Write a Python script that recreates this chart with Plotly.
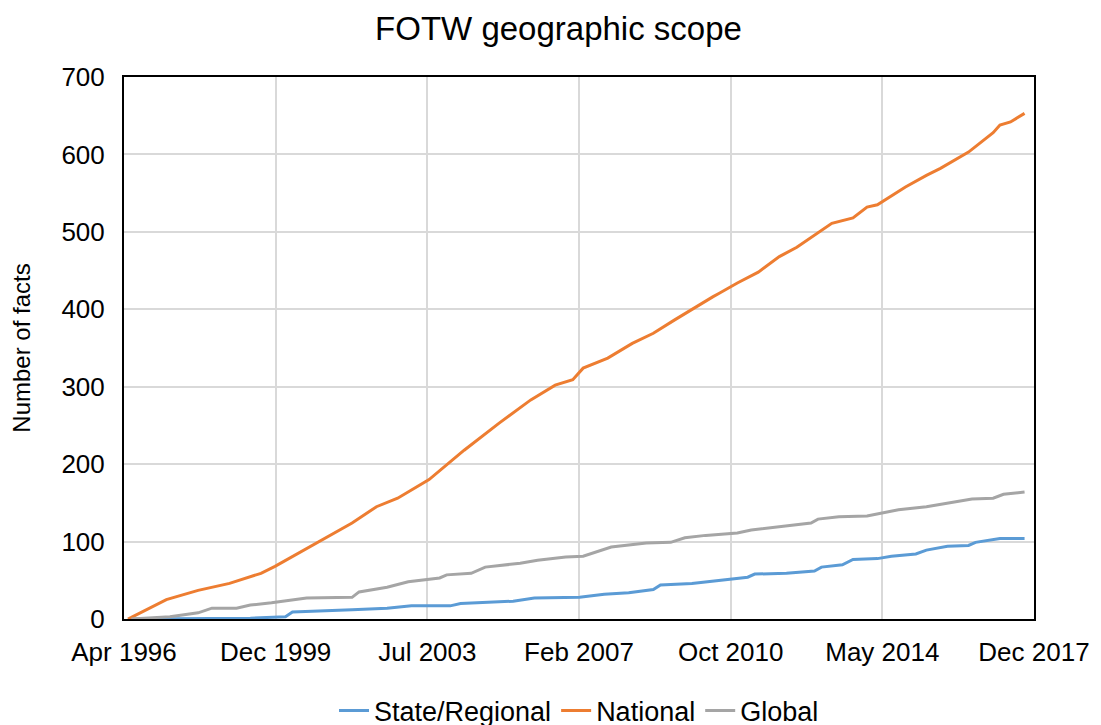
import pandas as pd
import plotly.graph_objects as go

# National (orange)
national_dates = ['1996-06', '1996-07', '1997-05', '1998-02', '1998-11', '1999-08', '1999-12',
                  '2000-12', '2001-10', '2002-05', '2002-11', '2003-08', '2004-06', '2005-04',
                  '2006-01', '2006-08', '2007-01', '2007-04', '2007-11', '2008-06', '2008-12',
                  '2009-06', '2009-12', '2010-05', '2010-07', '2010-12', '2011-06', '2011-12',
                  '2012-05', '2012-10', '2013-03', '2013-09', '2014-01', '2014-04', '2014-12',
                  '2015-06', '2015-10', '2016-06', '2017-01', '2017-03', '2017-06', '2017-10']
national = [0, 2, 25, 37, 46, 59, 68,
            98, 124, 145, 156, 180, 218, 253,
            283, 302, 309, 324, 337, 356, 369,
            386, 403, 416, 421, 434, 448, 468,
            480, 496, 511, 518, 532, 535, 558,
            573, 582, 603, 628, 638, 642, 653]

# Global (gray)
global_dates = ['1996-07', '1997-06', '1998-02', '1998-06', '1999-01', '1999-05', '1999-11',
                '2000-09', '2001-10', '2001-12', '2002-08', '2003-02', '2003-11', '2004-01',
                '2004-08', '2004-12', '2005-10', '2006-03', '2006-11', '2007-04', '2007-12',
                '2008-10', '2009-05', '2009-09', '2010-03', '2010-12', '2011-04', '2011-10',
                '2012-09', '2012-11', '2013-05', '2014-01', '2014-06', '2014-10', '2015-06',
                '2016-01', '2016-07', '2017-01', '2017-04', '2017-10']
global_ = [0, 3, 8, 14, 14, 18, 21,
           27, 28, 35, 41, 48, 53, 57,
           59, 67, 72, 76, 80, 81, 93,
           98, 99, 105, 108, 111, 115, 118,
           124, 129, 132, 133, 137, 141, 145,
           150, 155, 156, 161, 164]

# State/Regional (blue)
state_dates = ['1996-07', '1999-05', '2000-03', '2000-05', '2001-10', '2002-08', '2003-03',
               '2004-02', '2004-05', '2004-12', '2005-08', '2006-02', '2007-03', '2007-10',
               '2008-05', '2008-12', '2009-02', '2009-11', '2010-07', '2010-12', '2011-03',
               '2011-05', '2012-02', '2012-10', '2012-12', '2013-06', '2013-09', '2014-04',
               '2014-08', '2015-03', '2015-06', '2015-12', '2016-06', '2016-08', '2017-03',
               '2017-10']
state = [0, 1, 3, 9, 12, 14, 17,
         17, 20, 21, 23, 27, 28, 32,
         34, 38, 44, 46, 50, 52, 54,
         58, 59, 62, 67, 70, 77, 78,
         81, 84, 89, 94, 95, 99, 104,
         104]

tick_labels = ['Apr 1996', 'Dec 1999', 'Jul 2003', 'Feb 2007', 'Oct 2010', 'May 2014', 'Dec 2017']
x_start = pd.Timestamp('1996-04-28')
x_end = x_start + pd.Timedelta(days=6 * 1318)
tick_vals = pd.date_range(x_start, x_end, periods=7)

font = 'Liberation Sans, Arial, sans-serif'

fig = go.Figure()
fig.add_trace(go.Scatter(x=pd.to_datetime(state_dates), y=state, mode='lines',
                         name='State/Regional', line=dict(color='#5b9bd5', width=3)))
fig.add_trace(go.Scatter(x=pd.to_datetime(national_dates), y=national, mode='lines',
                         name='National', line=dict(color='#ed7d31', width=3)))
fig.add_trace(go.Scatter(x=pd.to_datetime(global_dates), y=global_, mode='lines',
                         name='Global', line=dict(color='#a5a5a5', width=3)))

# page body adds an 8px offset, so margins are shifted to compensate
fig.update_layout(
    width=1101, height=725,
    margin=dict(l=116, r=75, t=69, b=114),
    paper_bgcolor='white', plot_bgcolor='white',
    font=dict(family=font, size=26, color='black'),
    title=dict(text='FOTW geographic scope', x=0.5, xanchor='center',
               y=1 - 20 / 725, yanchor='middle', font=dict(size=33)),
    legend=dict(orientation='h', x=0.5, xanchor='center', yref='container',
                y=22 / 725, yanchor='middle', font=dict(size=27), tracegroupgap=0),
)
fig.update_xaxes(range=[x_start, x_end], tickvals=tick_vals, ticktext=tick_labels,
                 showgrid=True, gridcolor='#d9d9d9', gridwidth=2,
                 showline=True, linecolor='black', linewidth=2, mirror=True,
                 ticks='', ticklabelstandoff=9, automargin=False)
fig.update_yaxes(range=[0, 700], dtick=100,
                 title=dict(text='Number of facts', font=dict(size=24), standoff=26),
                 showgrid=True, gridcolor='#d9d9d9', gridwidth=2,
                 showline=True, linecolor='black', linewidth=2, mirror=True,
                 ticks='', ticklabelstandoff=12, zeroline=False, automargin=False)

fig.write_html('out.html')
